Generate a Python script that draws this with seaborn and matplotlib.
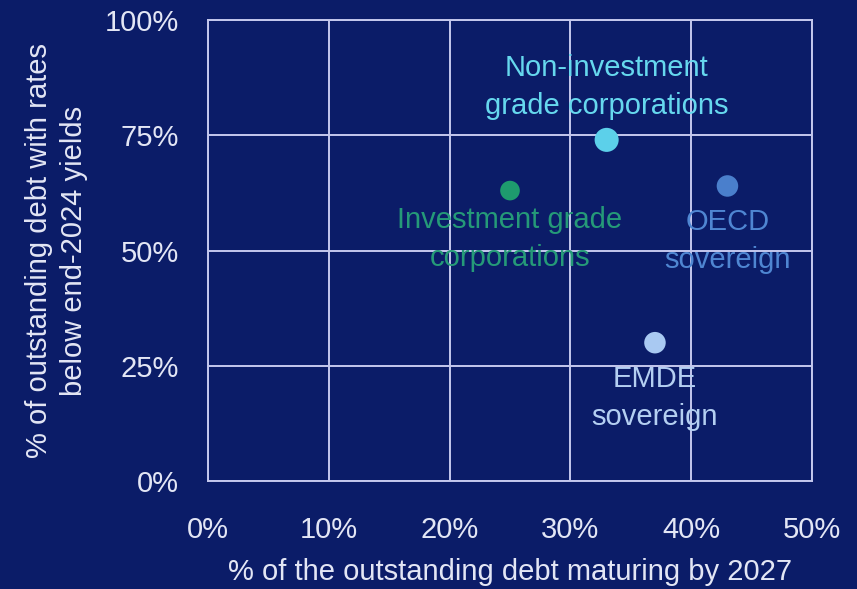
import matplotlib
matplotlib.use("Agg")
import matplotlib.pyplot as plt
import seaborn as sns
import pandas as pd
from matplotlib.ticker import PercentFormatter

categories = ["Non-investment\ngrade corporations", "Investment grade\ncorporations",
              "OECD\nsovereign", "EMDE\nsovereign"]
x_vals = [33, 25, 43, 37]
y_vals = [74, 63, 64, 30]
colors = ["#5cd0ea", "#1e9b6e", "#4a7fcc", "#a9c9f2"]
text_colors = ["#66d8ee", "#259a78", "#4f86d2", "#b4cff2"]
sizes = [300, 200, 240, 240]
x_ticks = [0, 10, 20, 30, 40, 50]
y_ticks = [0, 25, 50, 75, 100]

bg = "#0b1c68"
fg = "#e3e6f5"
sns.set_theme(style="dark")
plt.rcParams["font.family"] = ["Liberation Sans", "DejaVu Sans"]

df = pd.DataFrame({"cat": categories, "x": x_vals, "y": y_vals, "s": sizes})

fig = plt.figure(figsize=(8.57, 5.89), dpi=100, facecolor=bg)
ax = fig.add_axes([0.2427, 0.1834, 0.7048, 0.7826])
ax.set_facecolor(bg)

sns.scatterplot(data=df, x="x", y="y", hue="cat", palette=colors, size="s",
                sizes=(min(sizes), max(sizes)), linewidth=0, legend=False, ax=ax, zorder=3)

ax.set_xlim(0, 50)
ax.set_ylim(0, 100)
ax.set_xticks(x_ticks)
ax.set_yticks(y_ticks)
ax.xaxis.set_major_formatter(PercentFormatter(decimals=0))
ax.yaxis.set_major_formatter(PercentFormatter(decimals=0))
ax.grid(True, color="#c5c8ee", linewidth=1.4)
for s in ax.spines.values():
    s.set_visible(True)
    s.set_color("#c5c8ee")
    s.set_linewidth(1.4)
ax.tick_params(colors=fg, labelsize=21, length=0)
ax.tick_params(axis="y", pad=21)
ax.tick_params(axis="x", pad=25)
for lbl in ax.get_xticklabels() + ax.get_yticklabels():
    lbl.set_color(fg)

ax.set_xlabel("% of the outstanding debt maturing by 2027", color=fg, fontsize=21, labelpad=10)
ax.set_ylabel("% of outstanding debt with rates\nbelow end-2024 yields", color=fg,
              fontsize=21, labelpad=12, linespacing=1.3)

offsets = [(0, 53), (0, -48), (0, -55), (0, -55)]
for c, x, y, tc, (dx, dy) in zip(categories, x_vals, y_vals, text_colors, offsets):
    ax.annotate(c, (x, y), xytext=(dx, dy), textcoords="offset pixels", ha="center",
                va="center", color=tc, fontsize=21, linespacing=1.45, zorder=4)

fig.savefig("out.png", dpi=100, facecolor=bg)
